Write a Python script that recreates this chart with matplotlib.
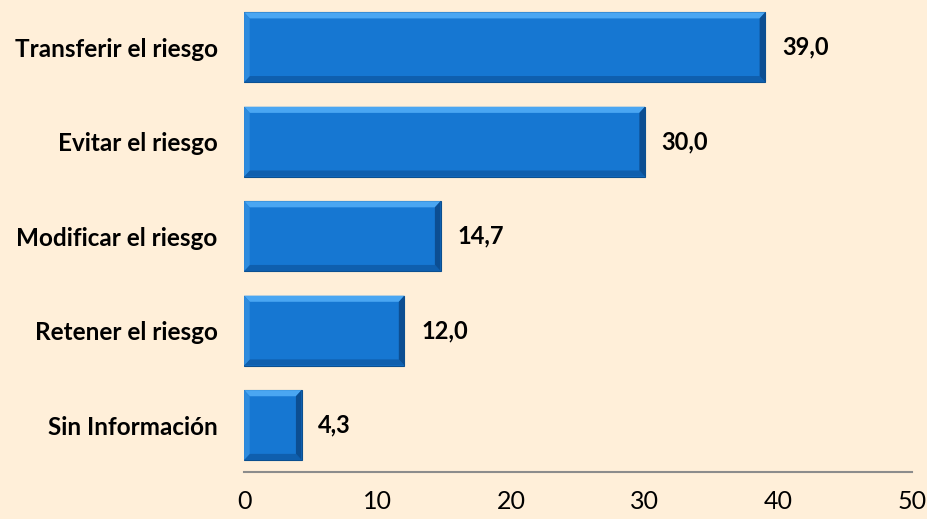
import matplotlib.pyplot as plt
from matplotlib.patches import Polygon

categories = ['Sin Información', 'Retener el riesgo', 'Modificar el riesgo',
              'Evitar el riesgo', 'Transferir el riesgo']
values = [4.3, 12.0, 14.7, 30.0, 39.0]
xticks = [0, 10, 20, 30, 40, 50]

bg = '#FFEFD9'
bar_color = '#1677D2'
plt.rcParams['font.family'] = ['Lato', 'DejaVu Sans']

fig = plt.figure(figsize=(9.28, 5.19), dpi=100, facecolor=bg)
ax = fig.add_axes([0.263, 0.09, 0.72, 0.91])
ax.set_facecolor(bg)

h = 0.74
ax.barh(range(len(values)), values, height=h, color=bar_color,
        edgecolor='#0B4F8F', linewidth=0.8, zorder=2)

# bevel edges, sized in data units from the axis scale
bx = 0.42
by = 0.065
for i, v in enumerate(values):
    y0, y1 = i - h / 2, i + h / 2
    top = [(0, y1), (v, y1), (v - bx, y1 - by), (bx, y1 - by)]
    bot = [(0, y0), (v, y0), (v - bx, y0 + by), (bx, y0 + by)]
    left = [(0, y0), (0, y1), (bx, y1 - by), (bx, y0 + by)]
    right = [(v, y0), (v, y1), (v - bx, y1 - by), (v - bx, y0 + by)]
    ax.add_patch(Polygon(top, closed=True, color='#4AA6F2', lw=0, zorder=3))
    ax.add_patch(Polygon(bot, closed=True, color='#0F5FAE', lw=0, zorder=3))
    ax.add_patch(Polygon(left, closed=True, color='#2E8BDE', lw=0, zorder=3))
    ax.add_patch(Polygon(right, closed=True, color='#0C4E92', lw=0, zorder=3))
    ax.text(v + 1.25, i, f'{v:.1f}'.replace('.', ','), va='center', ha='left',
            fontsize=17, fontweight='bold', color='black')

ax.set_xlim(0, 50)
ax.set_ylim(-0.5, len(values) - 0.5)
ax.set_xticks(xticks)
ax.set_xticklabels([str(t) for t in xticks], fontsize=18)
ax.set_yticks(range(len(categories)))
ax.set_yticklabels(categories, fontsize=17.5, fontweight='bold')
ax.tick_params(axis='y', length=0, pad=19)
ax.tick_params(axis='x', length=0, pad=13)
for s in ['top', 'right', 'left']:
    ax.spines[s].set_visible(False)
ax.spines['bottom'].set_color('#8C8C8C')
ax.spines['bottom'].set_linewidth(1.5)

fig.savefig('out.png', dpi=100, facecolor=bg)
